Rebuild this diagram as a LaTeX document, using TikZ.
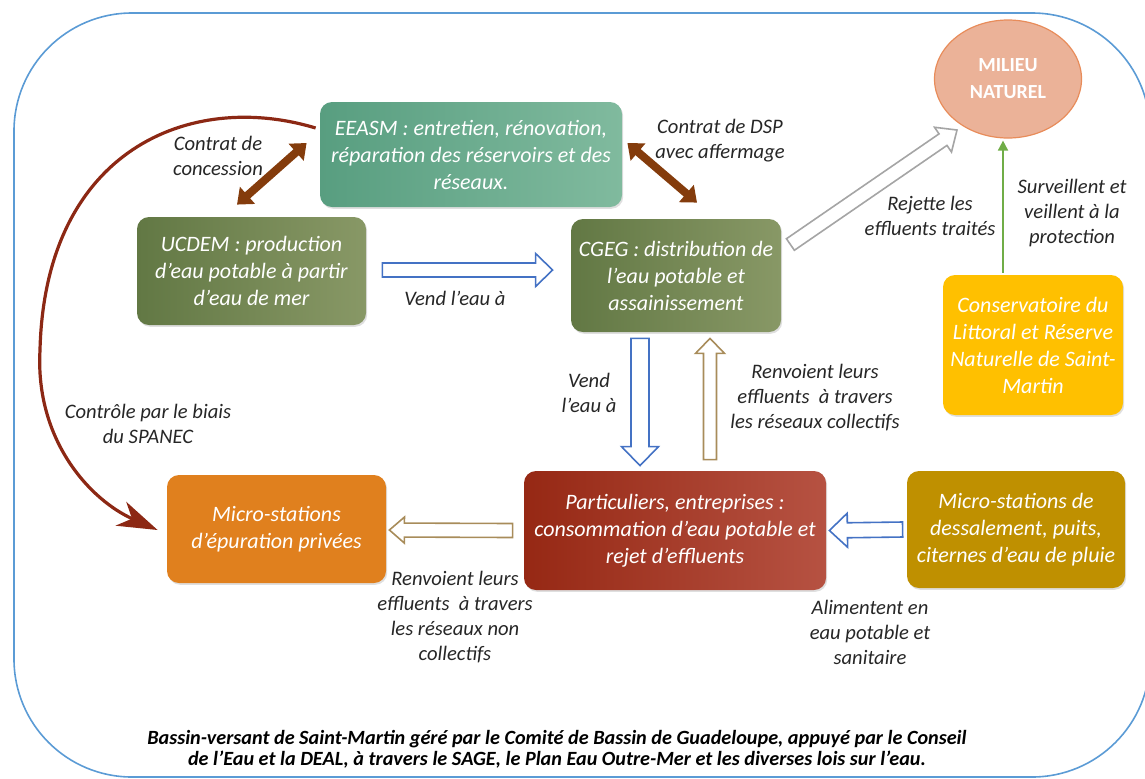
\documentclass[tikz,border=0pt]{standalone}
\usepackage{fontspec}
\setmainfont{Carlito}
\usetikzlibrary{calc,shadows,arrows.meta,shapes.geometric}

\definecolor{framec}{RGB}{91,155,213}
\definecolor{eeL}{RGB}{88,158,128}
\definecolor{eeR}{RGB}{128,186,158}
\definecolor{olL}{RGB}{98,120,68}
\definecolor{olR}{RGB}{136,152,102}
\definecolor{paL}{RGB}{150,40,20}
\definecolor{paR}{RGB}{182,82,66}
\definecolor{orgc}{RGB}{224,128,30}
\definecolor{dgold}{RGB}{191,144,0}
\definecolor{gold}{RGB}{255,192,0}
\definecolor{salmon}{RGB}{235,178,152}
\definecolor{salmonb}{RGB}{232,140,90}
\definecolor{bluea}{RGB}{68,114,196}
\definecolor{tana}{RGB}{168,140,90}
\definecolor{greya}{RGB}{165,165,165}
\definecolor{browna}{RGB}{132,60,12}
\definecolor{curvec}{RGB}{140,40,20}
\definecolor{greena}{RGB}{112,173,71}
\definecolor{txt}{RGB}{38,38,38}

\newcommand\boxfont{\fontsize{11}{13.5}\selectfont\itshape}
\newcommand\lblfont{\fontsize{10.3}{12.5}\selectfont\itshape}
\newcommand\capfont{\fontsize{10.1}{10.5}\selectfont\bfseries\itshape}

% block (hollow) arrow: #1 style, #2 name, #3 from, #4 to, #5 body half, #6 head half, #7 head length
\newcommand\blockarrow[7]{%
  \coordinate (#2-s) at #3;
  \coordinate (#2-t) at #4;
  \coordinate (#2-h) at ($(#2-t)!#7!(#2-s)$);
  \draw[#1, fill=white, line width=0.8pt, line join=miter]
    ($(#2-s)!#5!90:(#2-t)$) -- ($(#2-h)!#5!90:(#2-t)$) -- ($(#2-h)!#6!90:(#2-t)$)
    -- (#2-t) -- ($(#2-h)!#6!-90:(#2-t)$) -- ($(#2-h)!#5!-90:(#2-t)$)
    -- ($(#2-s)!#5!-90:(#2-t)$) -- cycle;
}

\begin{document}
\begin{tikzpicture}[x=0.5pt,y=-0.5pt,
  box/.style={rounded corners=6pt, text=white, align=center, font=\boxfont, inner sep=0pt,
    drop shadow={shadow xshift=0.6pt, shadow yshift=-0.9pt, opacity=0.25}},
  lbl/.style={align=center, font=\lblfont, text=txt, inner sep=0pt},
  dbl/.style={browna, line width=4pt, {Triangle[length=7pt,width=11pt]}-{Triangle[length=7pt,width=11pt]}},
]
\useasboundingbox (0,0) rectangle (1145,778);

% frame
\draw[framec, line width=0.8pt, rounded corners=59pt] (14,13) rectangle (1150,777);

% nodes
\node[box, left color=eeL, right color=eeR, minimum width=151pt, minimum height=52.5pt] (eeasm) at (471,154.5)
  {EEASM : entretien, rénovation,\\réparation des réservoirs et des\\réseaux.};
\node[box, left color=olL, right color=olR, minimum width=114.5pt, minimum height=54pt] (ucdem) at (251.5,271)
  {UCDEM : production\\d’eau potable à partir\\d’eau de mer};
\node[box, left color=olL, right color=olR, minimum width=105pt, minimum height=56.5pt] (cgeg) at (676,275.5)
  {CGEG : distribution de\\l’eau potable et\\assainissement};
\node[ellipse, fill=salmon, draw=salmonb, line width=0.6pt, minimum width=73.5pt, minimum height=59pt,
  inner sep=0pt, text=white, align=center, font=\fontsize{10}{13.5}\selectfont\bfseries] (milieu) at (1008,79)
  {MILIEU\\NATUREL};
\node[box, fill=gold, minimum width=90pt, minimum height=70pt] (conserv) at (1033,345)
  {Conservatoire du\\Littoral et Réserve\\Naturelle de Saint-\\Martin};
\node[box, fill=orgc, minimum width=109.5pt, minimum height=54pt] (microep) at (276.5,529)
  {Micro-stations\\d’épuration privées};
\node[box, left color=paL, right color=paR, minimum width=151pt, minimum height=59.5pt] (partic) at (675,530.5)
  {Particuliers, entreprises :\\consommation d’eau potable et\\rejet d’effluents};
\node[box, fill=dgold, minimum width=109pt, minimum height=58.5pt] (dessal) at (1016,529.5)
  {Micro-stations de\\dessalement, puits,\\citernes d’eau de pluie};

% double brown arrows
\draw[dbl] ($(eeasm.west)+(-13,-11.5)$) -- ($(ucdem.north)+(-14.5,-12)$);
\draw[dbl] ($(eeasm.east)+(5,-11.5)$) -- ($(cgeg.north)+(21,-16)$);

% block arrows
\blockarrow{bluea}{a1}{($(ucdem.east)+(16,-1)$)}{($(cgeg.west)+(-18,-5.5)$)}{3.5pt}{8.25pt}{8.5pt}
\blockarrow{bluea}{a2}{($(cgeg.south)+(-36,6)$)}{($(partic.north)+(-35,-5)$)}{4.5pt}{9.25pt}{9.5pt}
\blockarrow{tana}{a3}{($(partic.north)+(35,-11)$)}{($(cgeg.south)+(34,6)$)}{3.25pt}{7.25pt}{7.5pt}
\blockarrow{tana}{a4}{($(partic.west)+(-11,0)$)}{($(microep.east)+(3,1)$)}{3.5pt}{6.5pt}{7.5pt}
\blockarrow{bluea}{a5}{($(dessal.west)+(-4,0)$)}{($(partic.east)+(3,0)$)}{3.75pt}{8.5pt}{9pt}
\blockarrow{greya}{a6}{($(cgeg.east)+(9,-31)$)}{($(milieu.center)+(-51,51)$)}{3.5pt}{7.5pt}{8.5pt}

% green arrow
\draw[greena, line width=0.9pt, -{Triangle[length=5pt,width=5pt]}] ($(conserv.north)+(-30,-2)$) -- ($(milieu.south)+(-5,2)$);

% curved arrow
\draw[curvec, line width=1.6pt, -{Stealth[length=20pt,width=13pt,inset=6pt]}]
  ($(eeasm.west)+(-4,-26.5)$) .. controls (190,90) and (45,150) .. (40,350)
  .. controls (35,440) and (90,500) .. ($(microep.west)+(-9,1)$);

% labels
\node[lbl] (l1) at (218,156) {Contrat de\\concession};
\node[lbl] (l2) at (720,141) {Contrat de DSP\\avec affermage};
\node[lbl] (l3) at (455,298) {Vend l’eau à};
\node[lbl] (l4) at (930,216) {Rejette les\\effluents traités};
\node[lbl] (l5) at (1072,213) {Surveillent et\\veillent à la\\protection};
\node[lbl] (l6) at (589,393) {Vend\\l’eau à};
\node[lbl] (l7) at (815,398) {Renvoient leurs\\effluents~ à travers\\les réseaux collectifs};
\node[lbl] (l8) at (148,424) {Contrôle par le biais\\du SPANEC};
\node[lbl] (l9) at (455,617) {Renvoient leurs\\effluents~ à travers\\les réseaux non\\collectifs};
\node[lbl] (l10) at (870,632) {Alimentent en\\eau potable et\\sanitaire};

% caption
\node[align=center, font=\capfont, text=black, inner sep=0pt] (cap) at (557,749)
  {Bassin-versant de Saint-Martin géré par le Comité de Bassin de Guadeloupe, appuyé par le Conseil\\de l’Eau et la DEAL, à travers le SAGE, le Plan Eau Outre-Mer et les diverses lois sur l’eau.};
\end{tikzpicture}
\end{document}
